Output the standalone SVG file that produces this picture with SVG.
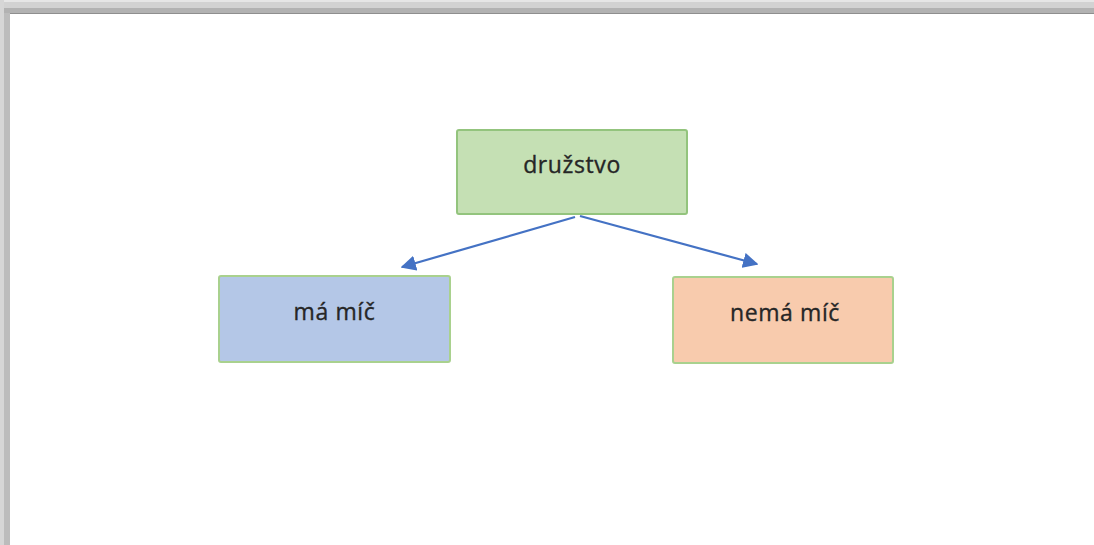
<svg xmlns="http://www.w3.org/2000/svg" width="1094" height="545" viewBox="0 0 1094 545">
<defs>
<style>
.node rect{stroke-width:2}
.node text{font-family:"Open Sans","Liberation Sans",sans-serif;font-size:23px;fill:#262626;stroke:#262626;stroke-width:0.35;text-anchor:middle;letter-spacing:0.6px}
.conn line{stroke:#4472c4;stroke-width:2.2;fill:none}
</style>
<marker id="ah" viewBox="0 0 10 10" refX="9" refY="5" markerWidth="7" markerHeight="7" orient="auto" markerUnits="strokeWidth">
<path d="M0,0 L10,5 L0,10 z" fill="#4472c4"/>
</marker>
</defs>
<rect x="0" y="0" width="1094" height="545" fill="#ffffff"/>
<g id="frame">
<rect x="0" y="0" width="1094" height="2" fill="#e6e6e6"/>
<rect x="0" y="2" width="1094" height="6" fill="#d2d2d2"/>
<rect x="0" y="8" width="1094" height="5" fill="#b2b2b2"/>
<rect x="0" y="13" width="1094" height="1" fill="#8e8e8e"/>
<rect x="0" y="0" width="4" height="545" fill="#d6d6d6"/>
<rect x="4" y="13" width="6" height="532" fill="#bcbcbc"/>
</g>
<g class="conn" id="connectors">
<line x1="575" y1="217" x2="402" y2="267" marker-end="url(#ah)"/>
<line x1="580" y1="216" x2="757" y2="264" marker-end="url(#ah)"/>
</g>
<g class="node" id="node-druzstvo">
<rect x="457" y="130" width="230" height="84" rx="2" fill="#c5e0b4" stroke="#93c47d"/>
<text x="572" y="173">družstvo</text>
</g>
<g class="node" id="node-ma-mic">
<rect x="219" y="276" width="231" height="86" rx="2" fill="#b4c7e7" stroke="#a9d18e"/>
<text x="334.5" y="320">má míč</text>
</g>
<g class="node" id="node-nema-mic">
<rect x="673" y="277" width="220" height="86" rx="2" fill="#f8cbad" stroke="#a9d18e"/>
<text x="785" y="321">nemá míč</text>
</g>
</svg>
